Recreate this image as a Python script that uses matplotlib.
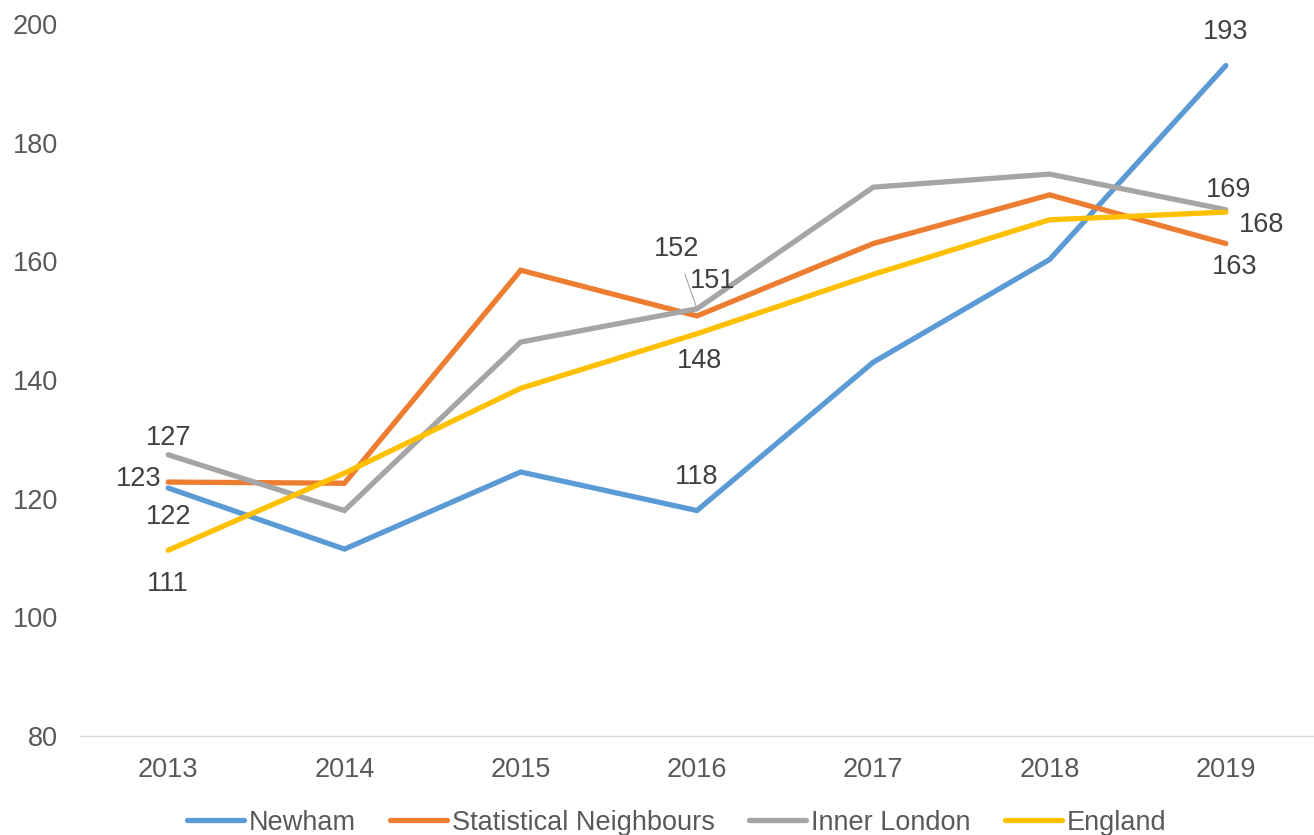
import matplotlib
matplotlib.use("Agg")
import matplotlib.pyplot as plt

plt.rcParams['font.family'] = ['Liberation Sans', 'DejaVu Sans']

years = ["2013", "2014", "2015", "2016", "2017", "2018", "2019"]
newham = [121.8, 111.5, 124.5, 118.0, 143.0, 160.3, 193.0]
stat_neighbours = [122.8, 122.6, 158.5, 150.8, 163.0, 171.2, 163.0]
inner_london = [127.4, 118.0, 146.4, 152.0, 172.5, 174.7, 168.7]
england = [111.3, 124.3, 138.6, 147.8, 157.8, 167.0, 168.3]

series_names = ["Newham", "Statistical Neighbours", "Inner London", "England"]
series = [newham, stat_neighbours, inner_london, england]
colors = ["#5B9BD5", "#ED7D31", "#A5A5A5", "#FFC000"]

# (series index, year index, label, offset in points)
labels = [
    (2, 0, "127", (0, 12)),
    (1, 0, "123", (-21, 2)),
    (0, 0, "122", (0, -21)),
    (3, 0, "111", (0, -24)),
    (2, 3, "152", (-15, 43)),
    (1, 3, "151", (11, 25)),
    (3, 3, "148", (2, -20)),
    (0, 3, "118", (0, 24)),
    (0, 6, "193", (0, 24)),
    (2, 6, "169", (2, 14)),
    (3, 6, "168", (26, -9)),
    (1, 6, "163", (6, -17)),
]

fig = plt.figure(figsize=(13.14, 8.35), dpi=100)
ax = fig.add_axes([80 / 1314, 1 - 736 / 835, 1 - 80 / 1314, 712 / 835])

x = list(range(len(years)))
for name, vals, c in zip(series_names, series, colors):
    ax.plot(x, vals, color=c, lw=3.8, label=name, solid_capstyle="round",
            solid_joinstyle="miter")

for si, yi, txt, off in labels:
    kw = {}
    if txt == "152":
        kw["arrowprops"] = dict(arrowstyle="-", color="#A5A5A5", lw=0.8,
                                shrinkA=7, shrinkB=0)
    ax.annotate(txt, (x[yi], series[si][yi]), xytext=off,
                textcoords="offset points", ha="center", va="center",
                fontsize=19.5, color="#404040", **kw)

ax.set_xlim(-0.5, len(years) - 0.5)
ax.set_ylim(80, 200)
ax.set_yticks(range(80, 201, 20))
ax.set_xticks(x)
ax.set_xticklabels(years)
ax.tick_params(length=0, labelsize=19.5, labelcolor="#595959")
ax.tick_params(axis="x", pad=15)
ax.tick_params(axis="y", pad=16)
for s in ["top", "right", "left"]:
    ax.spines[s].set_visible(False)
ax.spines["bottom"].set_color("#D9D9D9")
ax.spines["bottom"].set_linewidth(1)

leg = fig.legend(loc="lower center", bbox_to_anchor=(0.515, -0.03), ncol=4,
                 frameon=False, fontsize=19.5, handlelength=2.1,
                 columnspacing=1.25, handletextpad=0.2)
for t in leg.get_texts():
    t.set_color("#595959")

fig.savefig("out.png", dpi=100)
